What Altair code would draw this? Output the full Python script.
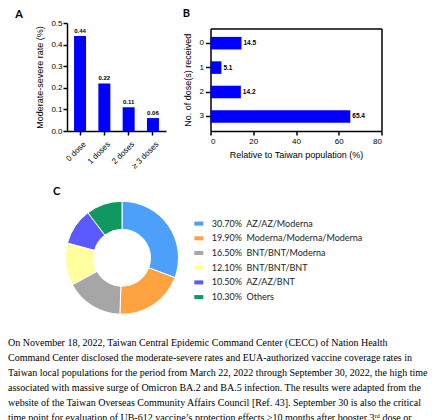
import altair as alt
import pandas as pd

# ---------------- data ----------------
dose_a = ["0 dose", "1 doses", "2 doses", "≥ 3 doses"]
rate_a = [0.44, 0.22, 0.11, 0.06]
rate_a_labels = ["0.44", "0.22", "0.11", "0.06"]

dose_b = ["0", "1", "2", "3"]
pop_b = [14.5, 5.1, 14.2, 65.4]
pop_b_labels = ["14.5", "5.1", "14.2", "65.4"]

vac_names = ["AZ/AZ/Moderna", "Moderna/Moderna/Moderna", "BNT/BNT/Moderna",
             "BNT/BNT/BNT", "AZ/AZ/BNT", "Others"]
vac_share = [30.7, 19.9, 16.5, 12.1, 10.5, 10.3]
vac_colors = ["#4DA0FA", "#FFA23F", "#A6A6A6", "#FFFF9E", "#5A5AFF", "#0F9960"]

para_lines = [
    "On November 18, 2022, Taiwan Central Epidemic Command Center (CECC) of Nation Health",
    "Command Center disclosed the moderate-severe rates and EUA-authorized vaccine coverage rates in",
    "Taiwan local populations for the period from March 22, 2022 through September 30, 2022, the high time",
    "associated with massive surge of Omicron BA.2 and BA.5 infection. The results were adapted from the",
    "website of the Taiwan Overseas Community Affairs Council [Ref. 43]. September 30 is also the critical",
    "time point for evaluation of UB-612 vaccine\u2019s protection effects \u226510 months after booster 3\u02b3\u1d48 dose or",
]

BLUE = "#0000FF"
SANS = "Liberation Sans"
LETTER_FONT = "Lato"

def letter(t, dx, offset):
    return alt.TitleParams(t, anchor="start", frame="group", dx=dx, offset=offset,
                           fontSize=11, fontWeight="bold", font=LETTER_FONT, color="black")

axis_common = dict(domainColor="black", tickColor="black", labelColor="black",
                   titleColor="black", domainWidth=1.5, tickWidth=1.5, grid=False,
                   labelFont=SANS, titleFont=SANS, titleFontWeight="normal")

def spacer(w, h):
    return alt.Chart(pd.DataFrame({"a": [0]})).mark_point(size=1, opacity=0).encode(
        x=alt.value(w / 2), y=alt.value(h / 2)).properties(width=w, height=h)

# ---------------- panel A ----------------
df_a = pd.DataFrame({"dose": dose_a, "rate": rate_a, "lab": rate_a_labels})
base_a = alt.Chart(df_a).encode(
    x=alt.X("dose:N", sort=dose_a, title=None,
            scale=alt.Scale(paddingInner=0.507, paddingOuter=0.29),
            axis=alt.Axis(labelAngle=-45, labelAlign="right", labelBaseline="top",
                          labelFontSize=8, tickSize=4, labelPadding=5, labelOffset=2,
                          **axis_common)),
    y=alt.Y("rate:Q", title="Moderate-severe rate (%)",
            scale=alt.Scale(domain=[0, 0.5], nice=False),
            axis=alt.Axis(values=[0, 0.1, 0.2, 0.3, 0.4, 0.5], format=".1f",
                          labelFontSize=8, tickSize=4, labelPadding=1,
                          titleFontSize=9, titlePadding=6, **axis_common)),
)
panel_a = alt.layer(
    base_a.mark_bar(color=BLUE),
    base_a.mark_text(baseline="bottom", dy=-2, fontSize=6, fontWeight="bold",
                     font=SANS, color="black").encode(text="lab:N"),
).properties(width=99, height=108, title=letter("A", -51.7, -1))

# ---------------- panel B ----------------
df_b = pd.DataFrame({"dose": dose_b, "pct": pop_b, "lab": pop_b_labels})
yb_scale = alt.Scale(domain=dose_b, range=[5.6, 108], paddingInner=0.486, paddingOuter=0.34)
xb_scale = alt.Scale(domain=[0, 80], nice=False)
frame_axis = dict(labels=False, ticks=False, title=None, domainColor="black",
                  domainWidth=1.5, grid=False)

bars_b = alt.Chart(df_b).mark_bar(color=BLUE).encode(
    y=alt.Y("dose:N", title="No. of dose(s) received", scale=yb_scale,
            axis=alt.Axis(orient="left", labelFontSize=8, tickSize=5, labelPadding=2,
                          titleFontSize=9, titlePadding=7, labelAngle=0, **axis_common)),
    x=alt.X("pct:Q", title="Relative to Taiwan population (%)", scale=xb_scale,
            axis=alt.Axis(orient="bottom", values=[0, 20, 40, 60, 80], labelFontSize=8,
                          tickSize=4, labelPadding=2, titleFontSize=9, titlePadding=5,
                          **axis_common)),
)
text_b = alt.Chart(df_b).mark_text(align="left", dx=2, fontSize=6.5, fontWeight="bold",
                                   font=SANS, color="black").encode(
    y=alt.Y("dose:N", scale=yb_scale, axis=None),
    x=alt.X("pct:Q", scale=xb_scale, axis=None),
    text="lab:N",
)
frame_b = alt.Chart(df_b).mark_bar(opacity=0).encode(
    y=alt.Y("dose:N", scale=yb_scale, axis=alt.Axis(orient="right", **frame_axis)),
    x=alt.X("pct:Q", scale=xb_scale, axis=alt.Axis(orient="top", offset=-5.6, **frame_axis)),
)
panel_b = alt.layer(bars_b, text_b, frame_b).resolve_axis(
    x="independent", y="independent"
).properties(width=171, height=108, title=letter("B", -27.7, 4))

# ---------------- panel C ----------------
labels_c = [f"{s:.2f}%\u00a0\u00a0{n}" for s, n in zip(vac_share, vac_names)]
df_c = pd.DataFrame({"label": labels_c, "share": vac_share,
                     "order": list(range(len(vac_share)))})
panel_c = alt.Chart(df_c).mark_arc(outerRadius=56.5, innerRadius=28.5,
                                   stroke="white", strokeWidth=1).encode(
    theta=alt.Theta("share:Q"),
    order=alt.Order("order:Q"),
    color=alt.Color("label:N", sort=labels_c,
                    scale=alt.Scale(domain=labels_c, range=vac_colors),
                    legend=alt.Legend(title=None, orient="none", legendX=186.3, legendY=17.8,
                                      symbolType="M-1,-0.45H1V0.45H-1Z", symbolSize=81,
                                      symbolStrokeWidth=0, symbolOpacity=1,
                                      labelFont=LETTER_FONT, labelFontSize=9,
                                      labelColor="#222", labelOffset=8.4,
                                      rowPadding=4.7, padding=0)),
).properties(width=228, height=113, title=letter("C", 45, 2.8))

# ---------------- paragraph ----------------
df_p = pd.DataFrame({"line": list(range(len(para_lines))), "text": para_lines})
para = alt.Chart(df_p).mark_text(align="left", baseline="alphabetic",
                                 font="Liberation Serif", fontSize=10, color="#000").encode(
    x=alt.value(0),
    y=alt.Y("line:Q", scale=alt.Scale(domain=[0, 5], reverse=True), axis=None),
    text="text:N",
).properties(width=424, height=75.3)

row1 = alt.hconcat(
    spacer(7, 1),
    alt.hconcat(panel_a, panel_b, spacing=16.5),
    spacing=0)
upper = alt.vconcat(row1, panel_c, spacing=14.3).resolve_scale(
    color="independent").resolve_legend(color="independent")
chart = alt.vconcat(upper, para, spacing=20.8).resolve_scale(
    color="independent").resolve_legend(color="independent").properties(
    padding=0
).configure_view(stroke=None)

chart.save("out.html", embed_options={"renderer": "svg", "actions": False})
